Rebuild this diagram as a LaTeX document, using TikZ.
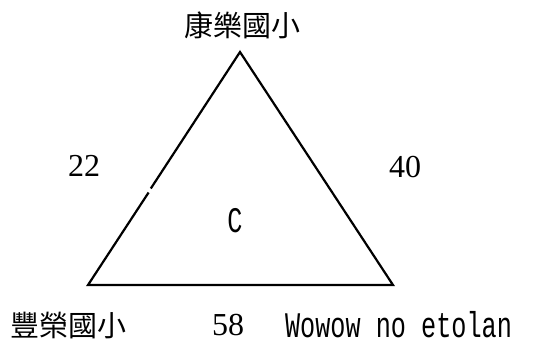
\documentclass[tikz,border=0pt]{standalone}
\usepackage{fontspec}
\setmainfont{Liberation Serif}
\newfontfamily\cjkfont{Noto Sans CJK TC}
\newfontfamily\narrowmono[FakeStretch=0.70]{Liberation Mono}
\begin{document}
\begin{tikzpicture}[x=1pt,y=-1pt,
  edge/.style={line width=2.2pt,line join=miter},
  cjklabel/.style={font=\cjkfont\fontsize{29}{34}\selectfont,inner sep=0pt},
  numlabel/.style={font=\fontsize{32}{38}\selectfont,inner sep=0pt},
  monolabel/.style={font=\narrowmono\fontsize{36}{42}\selectfont,inner sep=0pt}]
\useasboundingbox (0,0) rectangle (544,358);
\coordinate (A) at (240,52);
\coordinate (B) at (88,285);
\coordinate (R) at (393,285);
\coordinate (g1) at (150.8,188.5);
\coordinate (g2) at (148.6,192.5);
\draw[edge] (g1) -- (A) -- (R) -- (B) -- (g2);
\node[cjklabel] (top) at (242,25) {康樂國小};
\node[cjklabel] (bl) at (68,326) {豐榮國小};
\node[numlabel] (n22) at (84,166) {22};
\node[numlabel] (n40) at (405,167) {40};
\node[numlabel] (n58) at (228,325) {58};
\node[monolabel] (c) at (235,221) {C};
\node[monolabel] (wo) at (398.5,325) {Wowow no etolan};
\end{tikzpicture}
\end{document}
